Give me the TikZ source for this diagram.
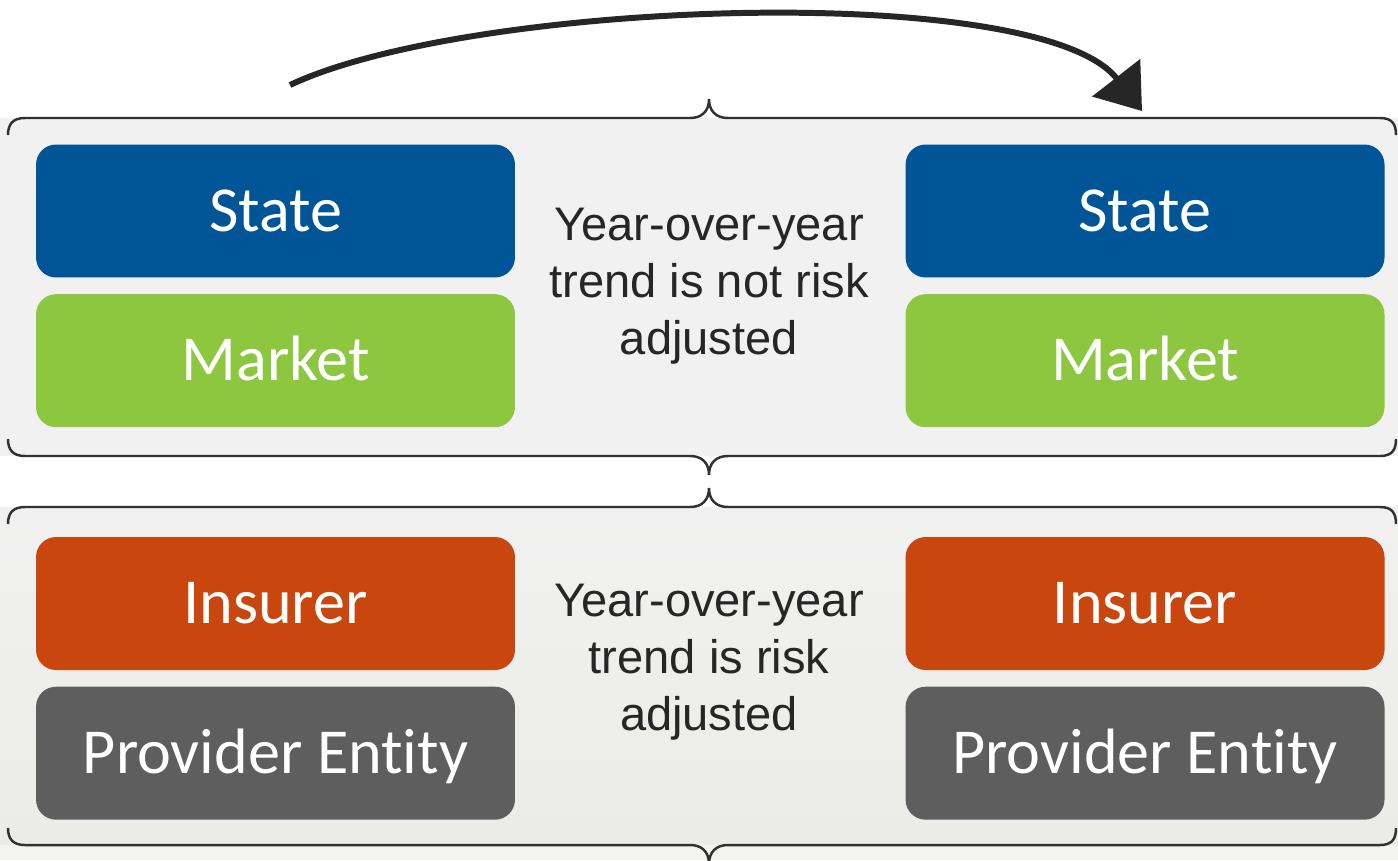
\documentclass[tikz,border=0pt]{standalone}
\usepackage{fontspec}
\setmainfont{Liberation Sans}
\newfontfamily\boxfont[Ligatures=NoCommon]{Carlito}
\usetikzlibrary{arrows.meta,positioning}

\definecolor{stateblue}{HTML}{005596}
\definecolor{marketgreen}{HTML}{8DC63F}
\definecolor{insurerorange}{HTML}{C9470E}
\definecolor{providergray}{HTML}{5E5E5E}
\definecolor{panelgray}{HTML}{F1F1F1}
\definecolor{panelfoot}{HTML}{EBEBE7}
\definecolor{darktext}{HTML}{262626}

\tikzset{
  box/.style={rounded corners=0.4cm, minimum width=9.58cm, minimum height=2.66cm,
    inner sep=0pt, text=white, text height=23.1pt, text depth=0pt,
    font=\boxfont\fontsize{36.5}{42}\selectfont},
  trend/.style={align=center, inner sep=0pt, text=darktext,
    font=\fontsize{26.8}{32.4}\selectfont},
  brace/.style={draw=darktext!95, line width=1.4pt},
  bigarrow/.style={draw=darktext, line width=3.4pt, -{Triangle[length=24pt,width=34pt]}}
}

\begin{document}
\begin{tikzpicture}[x=0.02cm, y=-0.02cm]
	\useasboundingbox (0,0) rectangle (1398,860);

	% Фон панелей
	\fill[panelgray] (0,118) rectangle (1398,456);
	\shade[top color=panelgray, bottom color=panelfoot] (0,507) rectangle (1398,845);
	\fill[panelfoot!60!white] (0,845) rectangle (1398,860);

	% Фигурные скобки
	\foreach \y/\d in {118/1, 456/-1, 507/1, 845/-1}
		\draw[brace] (8,\y+17*\d) .. controls (8,\y+6*\d) and (13,\y) .. (25,\y) -- (690,\y)
			.. controls (702,\y) and (709,\y-7*\d) .. (709,\y-19*\d)
			.. controls (709,\y-7*\d) and (716,\y) .. (728,\y) -- (1380,\y)
			.. controls (1392,\y) and (1396,\y+6*\d) .. (1396,\y+17*\d);

	% Левая колонка
	\node[box, fill=stateblue] (stateL) at (275.5,211) {State};
	\node[box, fill=marketgreen, below=0.32cm of stateL] (marketL) {Market};
	\node[box, fill=insurerorange] (insurerL) at (275.5,603.5) {Insurer};
	\node[box, fill=providergray, below=0.32cm of insurerL] (providerL) {Provider Entity};

	% Правая колонка
	\node[box, fill=stateblue, right=7.8cm of stateL] (stateR) {State};
	\node[box, fill=marketgreen, right=7.8cm of marketL] (marketR) {Market};
	\node[box, fill=insurerorange, right=7.8cm of insurerL] (insurerR) {Insurer};
	\node[box, fill=providergray, right=7.8cm of providerL] (providerR) {Provider Entity};

	% Тексты по центру
	\node[trend] (trendtop) at (709,286.5) {Year-over-year\\trend is not risk\\adjusted};
	\node[trend] (trendbottom) at (709,662.5) {Year-over-year\\trend is risk\\adjusted};

	% Стрелка сверху
	\coordinate (arrowstart) at (290,85);
	\coordinate (arrowend) at (1142,111);
	\draw[bigarrow] (arrowstart) .. controls (470,0) and (1040,-20) .. (arrowend);
\end{tikzpicture}
\end{document}
